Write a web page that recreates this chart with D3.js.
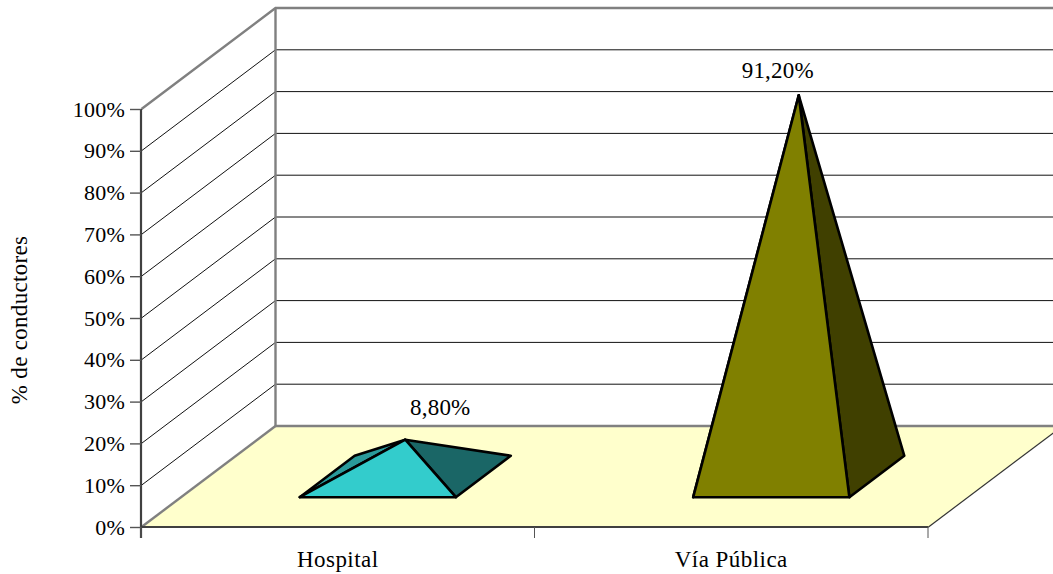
<!DOCTYPE html>
<html><head><meta charset="utf-8">
<style>html,body{margin:0;padding:0;background:#fff}svg{display:block}text{font-family:"Liberation Serif",serif;fill:#000}</style>
<script src="https://cdn.jsdelivr.net/npm/d3@7"></script></head><body><div id="c"></div>
<script>
const categories = ["Hospital", "Vía Pública"];
const values = [8.8, 91.2];
const valueLabels = ["8,80%", "91,20%"];
const frontColors = ["#33CCCC", "#808000"];
const rightColors = ["#1A6666", "#404000"];
const leftColors = ["#2A9A9A", "#606000"];
const yTicks = [0,10,20,30,40,50,60,70,80,90,100];
const axisTitle = "% de conductores";

const W=1053,H=574;
const svg=d3.select("#c").append("svg").attr("width",W).attr("height",H);
const x=d3.scaleBand().domain(categories).range([141.5,928.5]);
const y=d3.scaleLinear().domain([0,100]).range([527,109]);
const dx=d3.scaleLinear().domain([0,1]).range([0,134]);
const dy=d3.scaleLinear().domain([0,1]).range([0,-101]);
const P=(px,v,d)=>[px+dx(d),y(v)+dy(d)];
const x0=x.range()[0],x1=x.range()[1];
const line=d3.line();
const poly=(pts)=>line(pts)+"Z";

const g=svg.append("g");
yTicks.slice(1,-1).forEach(v=>{
  g.append("path").attr("d",line([P(x0,v,0),P(x0,v,1),P(x1+200,v,1)])).attr("fill","none").attr("stroke","#111").attr("stroke-width",1);
});
svg.append("path").attr("d",poly([P(x0,0,0),P(x0,0,1),P(x1,0,1),P(x1,0,0)])).attr("fill","#FFFFCC").attr("stroke","none");
const fp=(pts)=>svg.append("path").attr("d",line(pts)).attr("fill","none").attr("stroke","#808080").attr("stroke-width",2.4);
fp([P(x0,100,0),P(x0,100,1),P(x1+200,100,1)]);
fp([P(x0,100,1),P(x0,0,1),P(x1+200,0,1)]);
fp([P(x0,0,0),P(x0,0,1)]);
svg.append("path").attr("d",line([P(x1,0,0),P(x1,0,1)])).attr("stroke","#333").attr("stroke-width",1.2).attr("fill","none");

const barW=x.bandwidth()/2.52, dHalf=0.205;
categories.forEach((c,i)=>{
  const cx=x(c)+x.bandwidth()/2, l=cx-barW/2, r=cx+barW/2;
  const fl=P(l,0,.5-dHalf), fr=P(r,0,.5-dHalf), br=P(r,0,.5+dHalf), bl=P(l,0,.5+dHalf), apex=P(cx,values[i],.5);
  [[[fl,bl,apex],leftColors[i]],[[fr,br,apex],rightColors[i]],[[fl,fr,apex],frontColors[i]]].forEach(([pts,col])=>{
    svg.append("path").attr("d",poly(pts)).attr("fill",col).attr("stroke","#000").attr("stroke-width",2.6).attr("stroke-linejoin","round");
  });
  const off=[[35,-30],[-21,-23]][i];
  svg.append("text").attr("x",apex[0]+off[0]).attr("y",apex[1]+off[1]).attr("text-anchor","middle").attr("dominant-baseline","middle").attr("font-size",23).attr("letter-spacing",0.2).text(valueLabels[i]);
});

const ya=svg.append("g").attr("transform","translate(141,0)").call(d3.axisLeft(y).tickValues(yTicks).tickSize(11).tickPadding(5).tickFormat(d=>d+"%"));
ya.selectAll("text").attr("font-size",22).attr("letter-spacing",0.2).attr("font-family",'"Liberation Serif",serif').attr("fill","#000");
ya.selectAll("line").attr("stroke","#555").attr("stroke-width",1.4);
ya.select(".domain").attr("stroke","#404040").attr("stroke-width",2.2).attr("d","M0,109V538");
const xTicks=d3.scaleLinear().domain([0,2]).range([140.5,927.5]);
const xa=svg.append("g").attr("transform","translate(0,527)").call(d3.axisBottom(xTicks).tickValues([0,1,2]).tickSize(11).tickFormat(""));
xa.selectAll("line").attr("stroke","#555").attr("stroke-width",1);
xa.select(".domain").attr("stroke","#404040").attr("stroke-width",2.2).attr("d",`M${x0},0H${x1}`);
svg.selectAll("text.cat").data(categories).join("text").attr("class","cat")
  .attr("x",d=>x(d)+x.bandwidth()/2-0.5).attr("y",567).attr("text-anchor","middle").attr("font-size",23).attr("letter-spacing",0.45).text(d=>d);
svg.append("text").attr("transform","translate(27,320) rotate(-90)").attr("text-anchor","middle").attr("font-size",23).attr("letter-spacing",0.3).text(axisTitle);
</script></body></html>
